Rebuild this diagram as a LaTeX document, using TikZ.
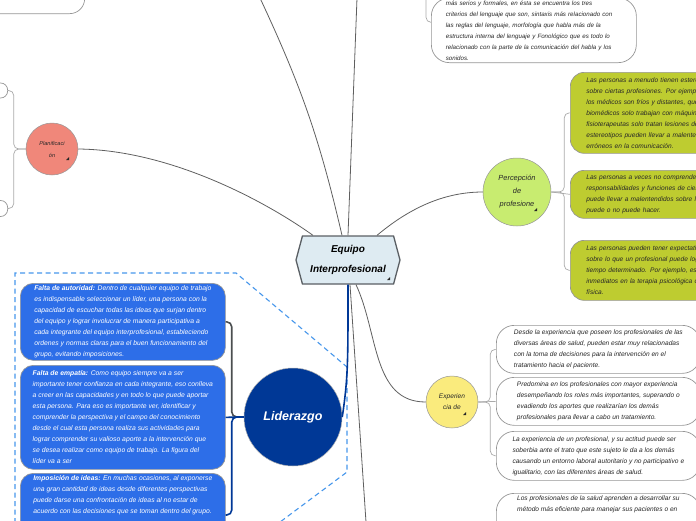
\documentclass[tikz,border=0pt]{standalone}
\usepackage{fontspec}
\setmainfont{Liberation Sans}
\usetikzlibrary{shapes.symbols,positioning}
\definecolor{brline}{RGB}{95,95,95}
\definecolor{bkline}{RGB}{170,170,170}
\definecolor{boxbdr}{RGB}{150,150,150}
\definecolor{hubbdr}{RGB}{90,95,100}
\definecolor{hubfill}{RGB}{222,235,242}
\definecolor{lidblue}{RGB}{0,56,150}
\definecolor{boxblue}{RGB}{45,110,232}
\definecolor{dashblue}{RGB}{70,150,235}
\definecolor{ldkline}{RGB}{75,78,80}
\definecolor{grnbox}{RGB}{190,204,48}
\definecolor{percfill}{RGB}{200,236,112}
\definecolor{expfill}{RGB}{250,235,125}
\definecolor{planfill}{RGB}{240,135,122}
\definecolor{txtdark}{RGB}{40,40,40}
\tikzset{
  %% central topic
  hubnode/.style={signal,signal to=west and east,signal pointer angle=150,
    draw=hubbdr,line width=1.3pt,fill=hubfill,minimum width=104pt,minimum height=48pt,
    font=\fontsize{10}{20}\selectfont\bfseries\itshape,align=center,text=black,inner sep=2pt},
  %% round subtopics
  bub/.style={circle,draw=boxbdr,line width=0.5pt,align=center,text=txtdark,inner sep=0pt},
  %% text boxes
  wblk/.style={rectangle,rounded corners=18pt,draw=boxbdr,line width=0.7pt,fill=white,
    align=left,font=\fontsize{6.6}{11}\selectfont\itshape,text=txtdark,
    inner xsep=6pt,inner ysep=2pt},
  gblk/.style={wblk,rounded corners=14pt,fill=grnbox,text width=200pt,inner xsep=16pt},
  bblk/.style={wblk,rounded corners=13pt,fill=boxblue,text=white,
    font=\fontsize{6.8}{11}\selectfont\itshape},
  %% connectors
  brn/.style={draw=brline,line width=0.8pt},
  brk/.style={draw=bkline,line width=0.7pt,rounded corners=5pt},
  ldk/.style={draw=ldkline,line width=1.6pt,rounded corners=5pt},
  lidln/.style={draw=lidblue,line width=1.6pt,rounded corners=5pt},
  dashln/.style={draw=dashblue,line width=1.1pt,dash pattern=on 5pt off 3.5pt},
  fold/.style={fill=black!85},
}
\begin{document}
\begin{tikzpicture}[x=1pt,y=-1pt]
  \useasboundingbox (0,0) rectangle (696,520);
  \clip (0,0) rectangle (696,520);

  %% boundary round the Liderazgo branch
  \draw[dashln] (15,540) -- (15,273) -- (236,273) -- (347,367) -- (347,472) -- (260,537);

  %% central topic
  \node[hubnode] (hub) at (348,260) {Equipo\\Interprofesional};

  %% free ends of branches leaving the picture
  \coordinate (topA) at (260,-2);
  \coordinate (topB) at (357,-2);
  \coordinate (botA) at (366,522);
  \coordinate (tbtop) at (426,-5);

  %% boxes cut by the top and left edges
  \node[wblk,rounded corners=15pt,minimum width=140pt,minimum height=60pt,anchor=south east] (tl) at (85,14) {};
  \node[wblk,rounded corners=7pt,minimum width=80pt,minimum height=15pt,anchor=east] (pl1) at (8,90.5) {};
  \node[wblk,rounded corners=7pt,minimum width=80pt,minimum height=16pt,anchor=east] (pl2) at (8,208.5) {};

  \node[wblk,anchor=south west,text width=176pt,inner xsep=14.5pt,inner ysep=2.5pt,
        font=\fontsize{6.2}{11}\selectfont\itshape] (tb) at (431,63)
    {más serios y formales, en ésta se encuentra los tres\\
     criterios del lenguaje que son, sintaxis más relacionado con\\
     las reglas del lenguaje, morfología que habla más de la\\
     estructura interna del lenguaje y Fonológico que es todo lo\\
     relacionado con la parte de la comunicación del habla y los\\
     sonidos.};

  %% subtopics
  \node[bub,fill=planfill,minimum size=52pt,font=\fontsize{5.6}{12}\selectfont\itshape] (plan) at (52,149) {Planificaci\\ón};
  \node[bub,fill=percfill,minimum size=68pt,font=\fontsize{7.4}{13}\selectfont\itshape] (perc) at (517,192) {Percepción\\de\\profesione};
  \node[bub,fill=expfill,minimum size=52pt,font=\fontsize{6.6}{11}\selectfont\itshape] (exp) at (452,402) {Experien\\cia de};
  \node[bub,fill=lidblue,draw=black!30,minimum size=98pt,text=white,
        font=\fontsize{12.5}{14}\selectfont\bfseries\itshape] (lid) at (293,417) {Liderazgo};

  %% Percepción de profesiones
  \node[gblk,anchor=north west,minimum height=81pt] (ga) at (570,72)
    {Las personas a menudo tienen estere\\
     sobre ciertas profesiones. Por ejemplo\\
     los médicos son fríos y distantes, que\\
     biomédicos solo trabajan con máquina\\
     fisioterapeutas solo tratan lesiones de\\
     estereotipos pueden llevar a malenten\\
     erróneos en la comunicación.};
  \node[gblk,anchor=north west,minimum height=48pt] (gb) at (570,170)
    {Las personas a veces no comprenden\\
     responsabilidades y funciones de ciert\\
     puede llevar a malentendidos sobre lo\\
     puede o no puede hacer.};
  \node[gblk,anchor=north west,minimum height=60pt] (gc) at (570,240)
    {Las personas pueden tener expectativ\\
     sobre lo que un profesional puede log\\
     tiempo determinado. Por ejemplo, esp\\
     inmediatos en la terapia psicológica o\\
     física.};

  %% Experiencia
  \node[wblk,anchor=north west,minimum width=204pt,minimum height=48pt] (e1) at (496,325)
    {Desde la experiencia que poseen los profesionales de las\\
     diversas áreas de salud, pueden estar muy relacionadas\\
     con la toma de decisiones para la intervención en el\\
     tratamiento hacia el paciente.};
  \node[wblk,anchor=north west,minimum width=204pt,minimum height=48pt] (e2) at (496,377)
    {Predomina en los profesionales con mayor experiencia\\
     desempeñando los roles más importantes, superando o\\
     evadiendo los aportes que realizarían los demás\\
     profesionales para llevar a cabo un tratamiento.};
  \node[wblk,anchor=north west,minimum width=204pt,minimum height=49pt] (e3) at (496,431)
    {La experiencia de un profesional, y su actitud puede ser\\
     soberbia ante el trato que este sujeto le da a los demás\\
     causando un entorno laboral autoritario y no participativo e\\
     igualitario, con las diferentes áreas de salud.};
  \node[wblk,anchor=north west,minimum width=204pt] (fb) at (496,493)
    {Los profesionales de la salud aprenden a desarrollar su\\
     método más eficiente para manejar sus pacientes o en\\
     \rule{0pt}{30pt}};

  %% Liderazgo
  \node[bblk,anchor=north west,minimum width=205pt,minimum height=77pt] (l1) at (20,283)
    {{\bfseries Falta de autoridad:} Dentro de cualquier equipo de trabajo\\
     es indispensable seleccionar un líder, una persona con la\\
     capacidad de escuchar todas las ideas que surjan dentro\\
     del equipo y lograr involucrar de manera participativa a\\
     cada integrante del equipo interprofesional, estableciendo\\
     ordenes y normas claras para el buen funcionamiento del\\
     grupo, evitando imposiciones.};
  \node[bblk,anchor=north west,minimum width=205pt,minimum height=104pt] (l2) at (20,365)
    {{\bfseries Falta de empatía:} Como equipo siempre va a ser\\
     importante tener confianza en cada integrante, eso conlleva\\
     a creer en las capacidades y en todo lo que puede aportar\\
     esta persona. Para eso es importante ver, identificar y\\
     comprender la perspectiva y el campo del conocimiento\\
     desde el cual esta persona realiza sus actividades para\\
     lograr comprender su valioso aporte a la intervención que\\
     se desea realizar como equipo de trabajo. La figura del\\
     líder va a ser};
  \node[bblk,anchor=north west,minimum width=205pt] (l3) at (20,473)
    {{\bfseries Imposición de ideas:} En muchas ocasiones, al exponerse\\
     una gran cantidad de ideas desde diferentes perspectivas\\
     puede darse una confrontación de ideas al no estar de\\
     acuerdo con las decisiones que se toman dentro del grupo.\\
     \rule{0pt}{30pt}};

  %% main branches
  \draw[brn] (plan.east) .. controls (170,150) and (265,201) .. ([xshift=-35pt]hub.north);
  \draw[brn] (topA) to[bend left=6] ([xshift=-6pt]hub.north);
  \draw[brn] (topB) -- (hub.north);
  \draw[brn] ([xshift=29pt]hub.north) to[out=40,in=180,looseness=0.9] (perc.west);
  \draw[brn] ([xshift=8pt]hub.south) to[out=-65,in=180] (exp.west);
  \draw[brn] ([xshift=2pt]hub.south) -- (botA);
  \draw[lidln] (hub.south) .. controls +(0,75) and +(6,-40) .. (lid.east);

  %% sub branches
  \draw[brk] (plan.west) -- ++(-12,0) |- (pl1.east);
  \draw[brk] (plan.west) -- ++(-12,0) |- (pl2.east);
  \draw[brk] (tbtop) |- ([yshift=8pt]tb.west);
  \draw[brk] (perc.east) -- ++(13,0) |- (ga.west);
  \draw[brk] (perc.east) -- (gb.west);
  \draw[brk] (perc.east) -- ++(13,0) |- (gc.west);
  \draw[brk] (exp.east) -- ++(12,0) |- (e1.west);
  \draw[brk] (exp.east) -- (e2.west);
  \draw[brk] (exp.east) -- ++(12,0) |- (e3.west);
  \draw[ldk] (lid.west) -- ++(-12,0) |- (l1.east);
  \draw[lidln] (lid.west) -- (l2.east);
  \draw[lidln] (lid.west) -- ++(-12,0) |- ([yshift=-42pt]l3.north east);

  %% fold markers
  \fill[fold] (69,160) -- ++(-3,0) -- ++(3,-3) -- cycle;
  \fill[fold] (537,211) -- ++(-3,0) -- ++(3,-3) -- cycle;
  \fill[fold] (390,280) -- ++(-3,0) -- ++(3,-3) -- cycle;
  \fill[fold] (466,415) -- ++(-3,0) -- ++(3,-3) -- cycle;
\end{tikzpicture}
\end{document}
